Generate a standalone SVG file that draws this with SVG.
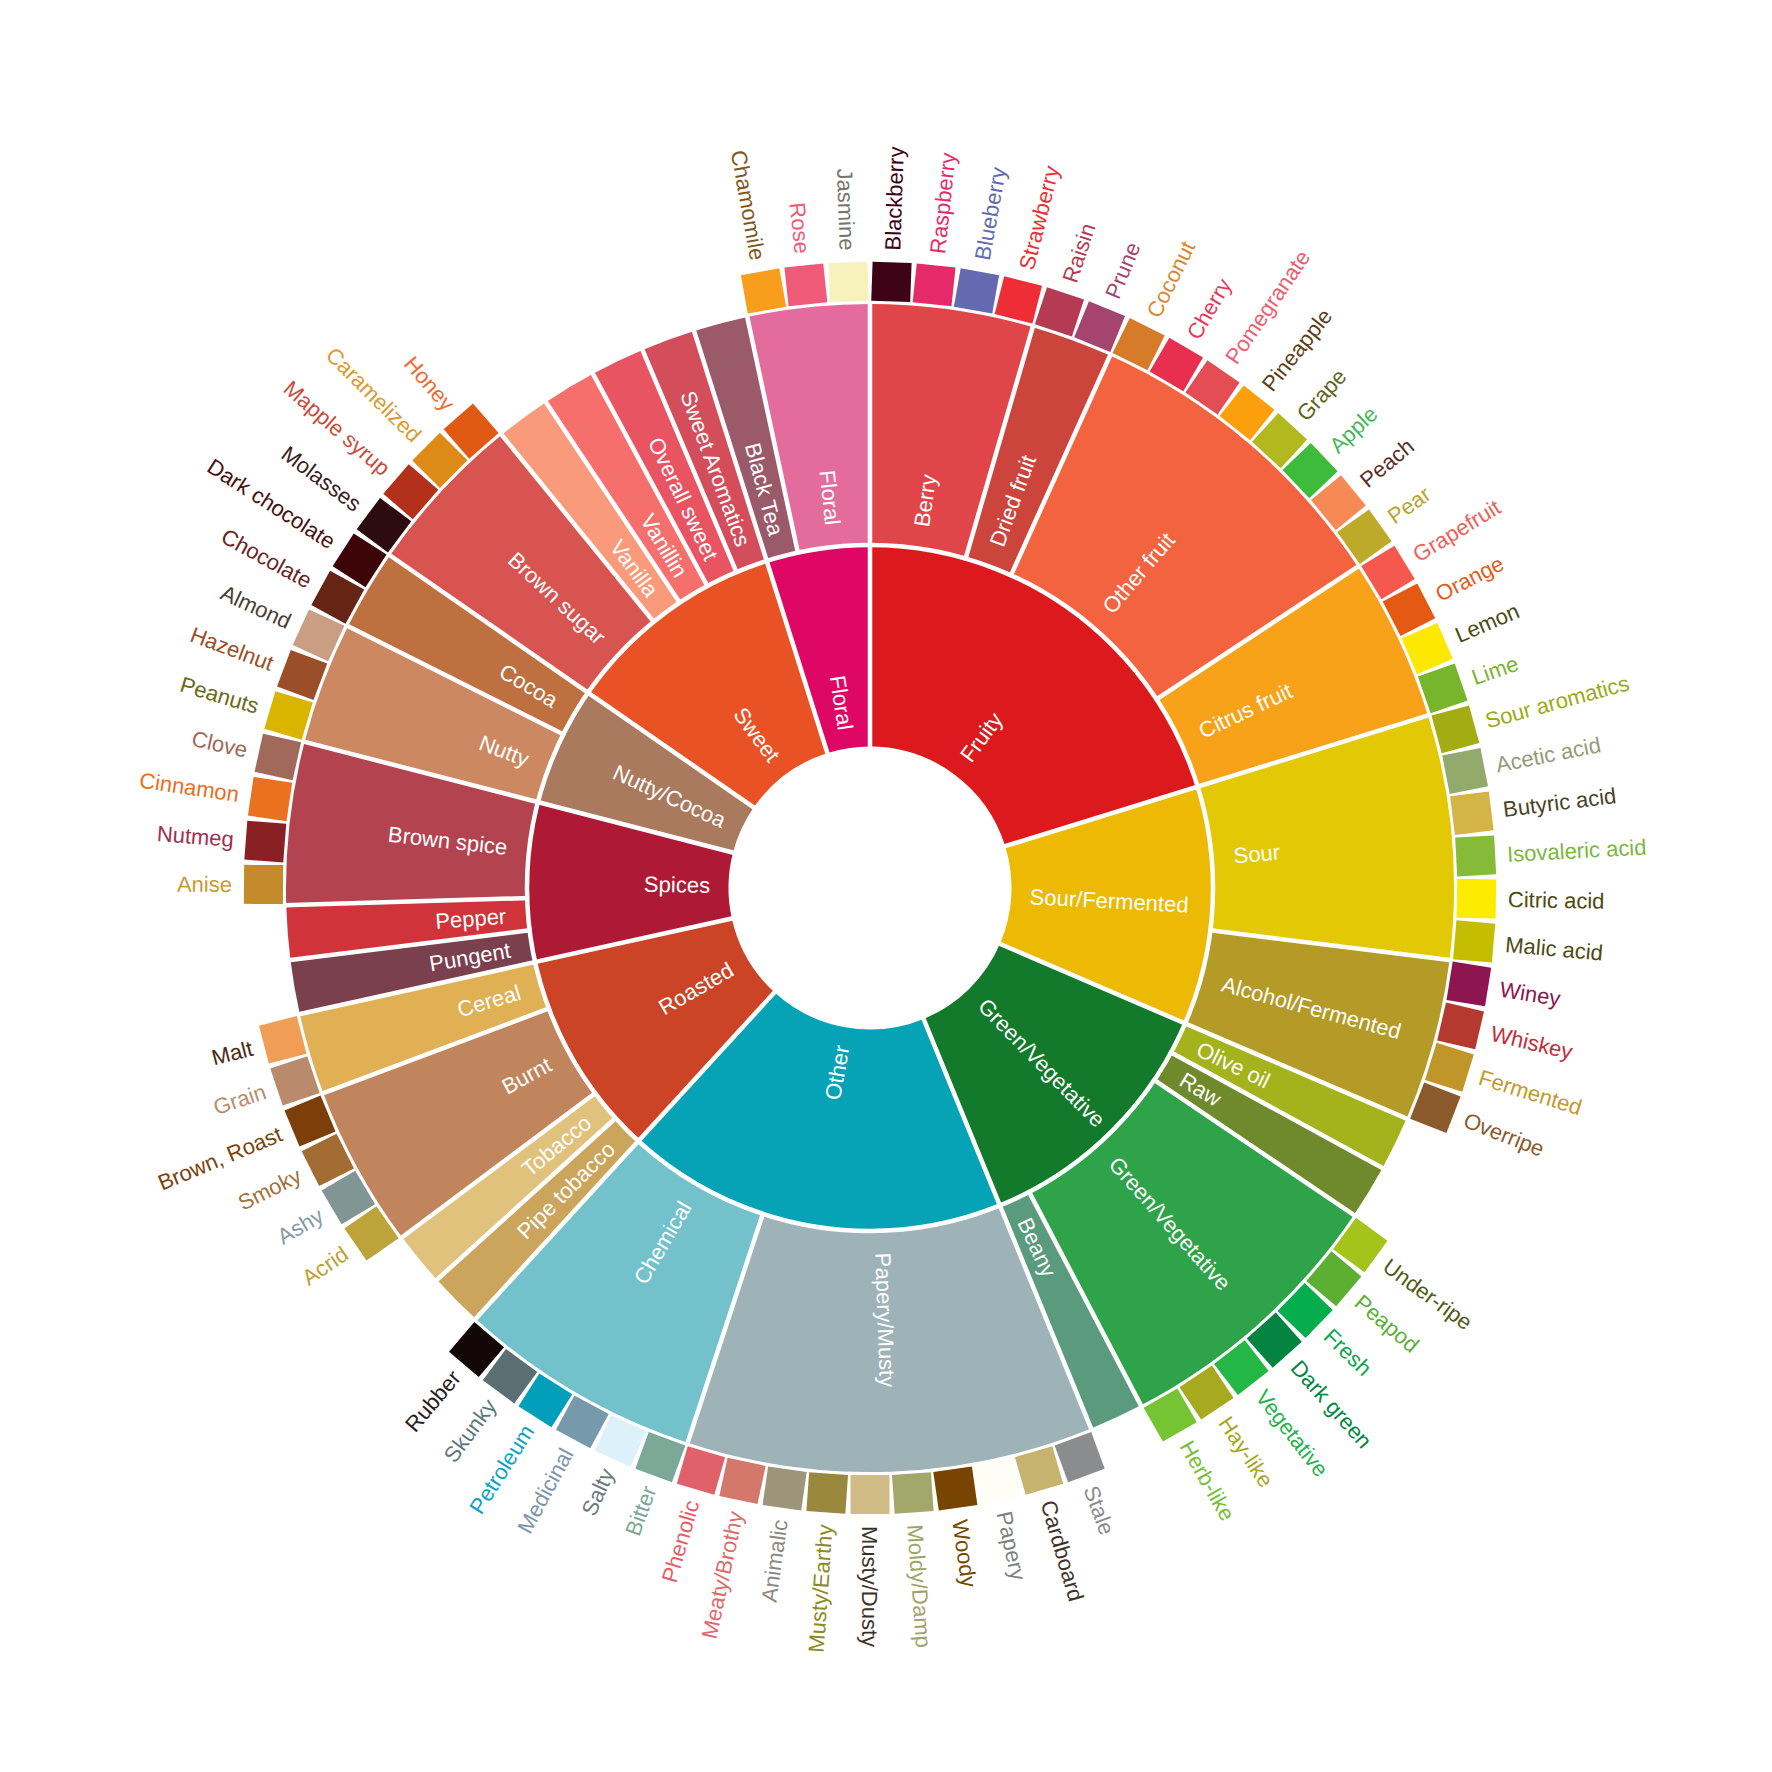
<svg xmlns="http://www.w3.org/2000/svg" width="1772" height="1772" viewBox="0 0 1772 1772">
<style>
text { font-family: "Liberation Sans", Arial, Helvetica, sans-serif; font-size: 22px; }
.l1 { fill: none; stroke-width: 201.5; }
.l2 { fill: none; stroke-width: 241; }
.w { fill: #ffffff; }
.e { text-anchor: end; }
.sep line { stroke: #ffffff; stroke-width: 4.5; }
.sep circle { fill: none; stroke: #ffffff; stroke-width: 4.5; }
</style>
<rect width="1772" height="1772" fill="#ffffff"/>
<g id="wheel" transform="translate(870 888)">
<!-- level 1 -->
<g id="n-fruity"><circle class="l1" r="242.25" stroke="#dc1a1e" stroke-dasharray="307.84 3000" transform="rotate(-90)"/><text class="w" transform="rotate(-53.596)" x="160" dy=".35em">Fruity</text></g>
<g id="n-sour-fermented"><circle class="l1" r="242.25" stroke="#ecb905" stroke-dasharray="171.02 3000" transform="rotate(-17.191)"/><text class="w" transform="rotate(3.034)" x="160" dy=".35em">Sour/Fermented</text></g>
<g id="n-green-vegetative"><circle class="l1" r="242.25" stroke="#127a2a" stroke-dasharray="188.12 3000" transform="rotate(23.258)"/><text class="w" transform="rotate(45.506)" x="160" dy=".35em">Green/Vegetative</text></g>
<g id="n-other"><circle class="l1" r="242.25" stroke="#06a3b7" stroke-dasharray="273.64 3000" transform="rotate(67.753)"/><text class="w e" transform="rotate(280.112)" x="-160" dy=".35em">Other</text></g>
<g id="n-roasted"><circle class="l1" r="242.25" stroke="#cc4426" stroke-dasharray="148.22 3000" transform="rotate(132.472)"/><text class="w e" transform="rotate(330)" x="-160" dy=".35em">Roasted</text></g>
<g id="n-spices"><circle class="l1" r="242.25" stroke="#ae1a36" stroke-dasharray="114.01 3000" transform="rotate(167.528)"/><text class="w e" transform="rotate(1.011)" x="-160" dy=".35em">Spices</text></g>
<g id="n-nutty-cocoa"><circle class="l1" r="242.25" stroke="#a97a5e" stroke-dasharray="85.51 3000" transform="rotate(194.494)"/><text class="w e" transform="rotate(24.607)" x="-160" dy=".35em">Nutty/Cocoa</text></g>
<g id="n-sweet"><circle class="l1" r="242.25" stroke="#e85225" stroke-dasharray="159.62 3000" transform="rotate(214.719)"/><text class="w e" transform="rotate(53.596)" x="-160" dy=".35em">Sweet</text></g>
<g id="n-floral"><circle class="l1" r="242.25" stroke="#de0765" stroke-dasharray="74.11 3000" transform="rotate(252.472)"/><text class="w e" transform="rotate(81.236)" x="-160" dy=".35em">Floral</text></g>
<!-- level 2 -->
<g id="n-berry"><circle class="l2" r="463.5" stroke="#e04649" stroke-dasharray="130.89 4000" transform="rotate(-90)"/><text class="w" transform="rotate(-81.910)" x="365" dy=".35em">Berry</text></g>
<g id="n-dried-fruit"><circle class="l2" r="463.5" stroke="#cc453d" stroke-dasharray="65.44 4000" transform="rotate(-73.820)"/><text class="w" transform="rotate(-69.775)" x="365" dy=".35em">Dried fruit</text></g>
<g id="n-other-fruit"><circle class="l2" r="463.5" stroke="#f4633f" stroke-dasharray="261.78 4000" transform="rotate(-65.730)"/><text class="w" transform="rotate(-49.551)" x="365" dy=".35em">Other fruit</text></g>
<g id="n-citrus-fruit"><circle class="l2" r="463.5" stroke="#f7a218" stroke-dasharray="130.89 4000" transform="rotate(-33.371)"/><text class="w" transform="rotate(-25.281)" x="365" dy=".35em">Citrus fruit</text></g>
<g id="n-sour"><circle class="l2" r="463.5" stroke="#e3c805" stroke-dasharray="196.33 4000" transform="rotate(-17.191)"/><text class="w" transform="rotate(-5.056)" x="365" dy=".35em">Sour</text></g>
<g id="n-alcohol-fermented"><circle class="l2" r="463.5" stroke="#b49a26" stroke-dasharray="130.89 4000" transform="rotate(7.079)"/><text class="w" transform="rotate(15.169)" x="365" dy=".35em">Alcohol/Fermented</text></g>
<g id="n-olive-oil"><circle class="l2" r="463.5" stroke="#a4b31b" stroke-dasharray="43.63 4000" transform="rotate(23.258)"/><text class="w" transform="rotate(25.955)" x="365" dy=".35em">Olive oil</text></g>
<g id="n-raw"><circle class="l2" r="463.5" stroke="#6f8a2c" stroke-dasharray="43.63 4000" transform="rotate(28.652)"/><text class="w" transform="rotate(31.348)" x="365" dy=".35em">Raw</text></g>
<g id="n-green-vegetative-2"><circle class="l2" r="463.5" stroke="#2fa34a" stroke-dasharray="229.05 4000" transform="rotate(34.045)"/><text class="w" transform="rotate(48.202)" x="365" dy=".35em">Green/Vegetative</text></g>
<g id="n-beany"><circle class="l2" r="463.5" stroke="#5a9b7e" stroke-dasharray="43.63 4000" transform="rotate(62.360)"/><text class="w" transform="rotate(65.056)" x="365" dy=".35em">Beany</text></g>
<g id="n-papery-musty"><circle class="l2" r="463.5" stroke="#9db3b8" stroke-dasharray="327.22 4000" transform="rotate(67.753)"/><text class="w" transform="rotate(87.978)" x="365" dy=".35em">Papery/Musty</text></g>
<g id="n-chemical"><circle class="l2" r="463.5" stroke="#72c1cb" stroke-dasharray="196.33 4000" transform="rotate(108.202)"/><text class="w e" transform="rotate(-59.663)" x="-365" dy=".35em">Chemical</text></g>
<g id="n-pipe-tobacco"><circle class="l2" r="463.5" stroke="#cba55c" stroke-dasharray="43.63 4000" transform="rotate(132.472)"/><text class="w e" transform="rotate(-44.831)" x="-365" dy=".35em">Pipe tobacco</text></g>
<g id="n-tobacco"><circle class="l2" r="463.5" stroke="#e1c27c" stroke-dasharray="43.63 4000" transform="rotate(137.865)"/><text class="w e" transform="rotate(-39.438)" x="-365" dy=".35em">Tobacco</text></g>
<g id="n-burnt"><circle class="l2" r="463.5" stroke="#c0855c" stroke-dasharray="130.89 4000" transform="rotate(143.258)"/><text class="w e" transform="rotate(-28.652)" x="-365" dy=".35em">Burnt</text></g>
<g id="n-cereal"><circle class="l2" r="463.5" stroke="#e0b055" stroke-dasharray="65.44 4000" transform="rotate(159.438)"/><text class="w e" transform="rotate(-16.517)" x="-365" dy=".35em">Cereal</text></g>
<g id="n-pungent"><circle class="l2" r="463.5" stroke="#7a404e" stroke-dasharray="43.63 4000" transform="rotate(167.528)"/><text class="w e" transform="rotate(-9.775)" x="-365" dy=".35em">Pungent</text></g>
<g id="n-pepper"><circle class="l2" r="463.5" stroke="#d0333a" stroke-dasharray="43.63 4000" transform="rotate(172.921)"/><text class="w e" transform="rotate(-4.382)" x="-365" dy=".35em">Pepper</text></g>
<g id="n-brown-spice"><circle class="l2" r="463.5" stroke="#b3434f" stroke-dasharray="130.89 4000" transform="rotate(178.315)"/><text class="w e" transform="rotate(6.404)" x="-365" dy=".35em">Brown spice</text></g>
<g id="n-nutty"><circle class="l2" r="463.5" stroke="#cc8860" stroke-dasharray="98.17 4000" transform="rotate(194.494)"/><text class="w e" transform="rotate(20.562)" x="-365" dy=".35em">Nutty</text></g>
<g id="n-cocoa"><circle class="l2" r="463.5" stroke="#bf7040" stroke-dasharray="65.44 4000" transform="rotate(206.629)"/><text class="w e" transform="rotate(30.674)" x="-365" dy=".35em">Cocoa</text></g>
<g id="n-brown-sugar"><circle class="l2" r="463.5" stroke="#d85450" stroke-dasharray="130.89 4000" transform="rotate(214.719)"/><text class="w e" transform="rotate(42.809)" x="-365" dy=".35em">Brown sugar</text></g>
<g id="n-vanilla"><circle class="l2" r="463.5" stroke="#f99a7b" stroke-dasharray="43.63 4000" transform="rotate(230.899)"/><text class="w e" transform="rotate(53.596)" x="-365" dy=".35em">Vanilla</text></g>
<g id="n-vanillin"><circle class="l2" r="463.5" stroke="#f5706c" stroke-dasharray="43.63 4000" transform="rotate(236.292)"/><text class="w e" transform="rotate(58.989)" x="-365" dy=".35em">Vanillin</text></g>
<g id="n-overall-sweet"><circle class="l2" r="463.5" stroke="#e95462" stroke-dasharray="43.63 4000" transform="rotate(241.685)"/><text class="w e" transform="rotate(64.382)" x="-365" dy=".35em">Overall sweet</text></g>
<g id="n-sweet-aromatics"><circle class="l2" r="463.5" stroke="#d34e5a" stroke-dasharray="43.63 4000" transform="rotate(247.079)"/><text class="w e" transform="rotate(69.775)" x="-365" dy=".35em">Sweet Aromatics</text></g>
<g id="n-black-tea"><circle class="l2" r="463.5" stroke="#9a5a6a" stroke-dasharray="43.63 4000" transform="rotate(252.472)"/><text class="w e" transform="rotate(75.169)" x="-365" dy=".35em">Black Tea</text></g>
<g id="n-floral-2"><circle class="l2" r="463.5" stroke="#e36c9c" stroke-dasharray="98.17 4000" transform="rotate(257.865)"/><text class="w e" transform="rotate(84.157)" x="-365" dy=".35em">Floral</text></g>
<!-- separators -->
<g id="separators" class="sep">
<circle r="343"/>
<line x1="138" y1="0" x2="586" y2="0" transform="rotate(-90)"/>
<line x1="138" y1="0" x2="586" y2="0" transform="rotate(-17.191)"/>
<line x1="138" y1="0" x2="586" y2="0" transform="rotate(23.258)"/>
<line x1="138" y1="0" x2="586" y2="0" transform="rotate(67.753)"/>
<line x1="138" y1="0" x2="586" y2="0" transform="rotate(132.472)"/>
<line x1="138" y1="0" x2="586" y2="0" transform="rotate(167.528)"/>
<line x1="138" y1="0" x2="586" y2="0" transform="rotate(194.494)"/>
<line x1="138" y1="0" x2="586" y2="0" transform="rotate(214.719)"/>
<line x1="138" y1="0" x2="586" y2="0" transform="rotate(252.472)"/>
<line x1="341" y1="0" x2="586" y2="0" transform="rotate(-73.820)"/>
<line x1="341" y1="0" x2="586" y2="0" transform="rotate(-65.730)"/>
<line x1="341" y1="0" x2="586" y2="0" transform="rotate(-33.371)"/>
<line x1="341" y1="0" x2="586" y2="0" transform="rotate(7.079)"/>
<line x1="341" y1="0" x2="586" y2="0" transform="rotate(28.652)"/>
<line x1="341" y1="0" x2="586" y2="0" transform="rotate(34.045)"/>
<line x1="341" y1="0" x2="586" y2="0" transform="rotate(62.360)"/>
<line x1="341" y1="0" x2="586" y2="0" transform="rotate(108.202)"/>
<line x1="341" y1="0" x2="586" y2="0" transform="rotate(137.865)"/>
<line x1="341" y1="0" x2="586" y2="0" transform="rotate(143.258)"/>
<line x1="341" y1="0" x2="586" y2="0" transform="rotate(159.438)"/>
<line x1="341" y1="0" x2="586" y2="0" transform="rotate(172.921)"/>
<line x1="341" y1="0" x2="586" y2="0" transform="rotate(178.315)"/>
<line x1="341" y1="0" x2="586" y2="0" transform="rotate(206.629)"/>
<line x1="341" y1="0" x2="586" y2="0" transform="rotate(230.899)"/>
<line x1="341" y1="0" x2="586" y2="0" transform="rotate(236.292)"/>
<line x1="341" y1="0" x2="586" y2="0" transform="rotate(241.685)"/>
<line x1="341" y1="0" x2="586" y2="0" transform="rotate(247.079)"/>
<line x1="341" y1="0" x2="586" y2="0" transform="rotate(257.865)"/>
</g>
<!-- leaves, right half -->
<g id="leaf-blackberry" transform="rotate(-87.978)"><rect x="587" y="-19.5" width="39" height="39" fill="#3e0317"/><text x="638" dy=".35em" fill="#3e0317">Blackberry</text></g>
<g id="leaf-raspberry" transform="rotate(-83.933)"><rect x="587" y="-19.5" width="39" height="39" fill="#e62969"/><text x="638" dy=".35em" fill="#e62969">Raspberry</text></g>
<g id="leaf-blueberry" transform="rotate(-79.888)"><rect x="587" y="-19.5" width="39" height="39" fill="#6569b0"/><text x="638" dy=".35em" fill="#6569b0">Blueberry</text></g>
<g id="leaf-strawberry" transform="rotate(-75.843)"><rect x="587" y="-19.5" width="39" height="39" fill="#ef2d36"/><text x="638" dy=".35em" fill="#ef2d36">Strawberry</text></g>
<g id="leaf-raisin" transform="rotate(-71.798)"><rect x="587" y="-19.5" width="39" height="39" fill="#b53b54"/><text x="638" dy=".35em" fill="#b53b54">Raisin</text></g>
<g id="leaf-prune" transform="rotate(-67.753)"><rect x="587" y="-19.5" width="39" height="39" fill="#a5446f"/><text x="638" dy=".35em" fill="#a5446f">Prune</text></g>
<g id="leaf-coconut" transform="rotate(-63.708)"><rect x="587" y="-19.5" width="39" height="39" fill="#d67b2a"/><text x="638" dy=".35em" fill="#d9882c">Coconut</text></g>
<g id="leaf-cherry" transform="rotate(-59.663)"><rect x="587" y="-19.5" width="39" height="39" fill="#e82f4f"/><text x="638" dy=".35em" fill="#e8365a">Cherry</text></g>
<g id="leaf-pomegranate" transform="rotate(-55.618)"><rect x="587" y="-19.5" width="39" height="39" fill="#e54d55"/><text x="638" dy=".35em" fill="#ee5d6e">Pomegranate</text></g>
<g id="leaf-pineapple" transform="rotate(-51.573)"><rect x="587" y="-19.5" width="39" height="39" fill="#fba00c"/><text x="638" dy=".35em" fill="#5e3d16">Pineapple</text></g>
<g id="leaf-grape" transform="rotate(-47.528)"><rect x="587" y="-19.5" width="39" height="39" fill="#b2b91e"/><text x="638" dy=".35em" fill="#5d6420">Grape</text></g>
<g id="leaf-apple" transform="rotate(-43.483)"><rect x="587" y="-19.5" width="39" height="39" fill="#3fbb3b"/><text x="638" dy=".35em" fill="#44b85a">Apple</text></g>
<g id="leaf-peach" transform="rotate(-39.438)"><rect x="587" y="-19.5" width="39" height="39" fill="#f68a55"/><text x="638" dy=".35em" fill="#5a2e28">Peach</text></g>
<g id="leaf-pear" transform="rotate(-35.393)"><rect x="587" y="-19.5" width="39" height="39" fill="#bcaa28"/><text x="638" dy=".35em" fill="#b8a62a">Pear</text></g>
<g id="leaf-grapefruit" transform="rotate(-31.348)"><rect x="587" y="-19.5" width="39" height="39" fill="#f5584c"/><text x="638" dy=".35em" fill="#f0605a">Grapefruit</text></g>
<g id="leaf-orange" transform="rotate(-27.303)"><rect x="587" y="-19.5" width="39" height="39" fill="#e55a13"/><text x="638" dy=".35em" fill="#e65a18">Orange</text></g>
<g id="leaf-lemon" transform="rotate(-23.258)"><rect x="587" y="-19.5" width="39" height="39" fill="#fde804"/><text x="638" dy=".35em" fill="#4a4a14">Lemon</text></g>
<g id="leaf-lime" transform="rotate(-19.213)"><rect x="587" y="-19.5" width="39" height="39" fill="#76b52c"/><text x="638" dy=".35em" fill="#76b52c">Lime</text></g>
<g id="leaf-sour-aromatics" transform="rotate(-15.169)"><rect x="587" y="-19.5" width="39" height="39" fill="#a4ac14"/><text x="638" dy=".35em" fill="#9aac10">Sour aromatics</text></g>
<g id="leaf-acetic-acid" transform="rotate(-11.124)"><rect x="587" y="-19.5" width="39" height="39" fill="#92aa6c"/><text x="638" dy=".35em" fill="#929c78">Acetic acid</text></g>
<g id="leaf-butyric-acid" transform="rotate(-7.079)"><rect x="587" y="-19.5" width="39" height="39" fill="#d4b447"/><text x="638" dy=".35em" fill="#4a4226">Butyric acid</text></g>
<g id="leaf-isovaleric-acid" transform="rotate(-3.034)"><rect x="587" y="-19.5" width="39" height="39" fill="#86bb3a"/><text x="638" dy=".35em" fill="#7ab83e">Isovaleric acid</text></g>
<g id="leaf-citric-acid" transform="rotate(1.011)"><rect x="587" y="-19.5" width="39" height="39" fill="#fdeb00"/><text x="638" dy=".35em" fill="#4e4a10">Citric acid</text></g>
<g id="leaf-malic-acid" transform="rotate(5.056)"><rect x="587" y="-19.5" width="39" height="39" fill="#c5bd00"/><text x="638" dy=".35em" fill="#4e4a10">Malic acid</text></g>
<g id="leaf-winey" transform="rotate(9.101)"><rect x="587" y="-19.5" width="39" height="39" fill="#8e1650"/><text x="638" dy=".35em" fill="#8e1650">Winey</text></g>
<g id="leaf-whiskey" transform="rotate(13.146)"><rect x="587" y="-19.5" width="39" height="39" fill="#b5392f"/><text x="638" dy=".35em" fill="#c0303a">Whiskey</text></g>
<g id="leaf-fermented" transform="rotate(17.191)"><rect x="587" y="-19.5" width="39" height="39" fill="#c0952a"/><text x="638" dy=".35em" fill="#c09a2e">Fermented</text></g>
<g id="leaf-overripe" transform="rotate(21.236)"><rect x="587" y="-19.5" width="39" height="39" fill="#8c5b2c"/><text x="638" dy=".35em" fill="#8c5b2c">Overripe</text></g>
<g id="leaf-under-ripe" transform="rotate(36.067)"><rect x="587" y="-19.5" width="39" height="39" fill="#a4c41c"/><text x="638" dy=".35em" fill="#4e5a14">Under-ripe</text></g>
<g id="leaf-peapod" transform="rotate(40.112)"><rect x="587" y="-19.5" width="39" height="39" fill="#5caf33"/><text x="638" dy=".35em" fill="#5caf33">Peapod</text></g>
<g id="leaf-fresh" transform="rotate(44.157)"><rect x="587" y="-19.5" width="39" height="39" fill="#05ad4c"/><text x="638" dy=".35em" fill="#05a84c">Fresh</text></g>
<g id="leaf-dark-green" transform="rotate(48.202)"><rect x="587" y="-19.5" width="39" height="39" fill="#038541"/><text x="638" dy=".35em" fill="#038541">Dark green</text></g>
<g id="leaf-vegetative" transform="rotate(52.247)"><rect x="587" y="-19.5" width="39" height="39" fill="#23b746"/><text x="638" dy=".35em" fill="#23b34c">Vegetative</text></g>
<g id="leaf-hay-like" transform="rotate(56.292)"><rect x="587" y="-19.5" width="39" height="39" fill="#a7a91e"/><text x="638" dy=".35em" fill="#a9a61e">Hay-like</text></g>
<g id="leaf-herb-like" transform="rotate(60.337)"><rect x="587" y="-19.5" width="39" height="39" fill="#76c433"/><text x="638" dy=".35em" fill="#76c036">Herb-like</text></g>
<g id="leaf-stale" transform="rotate(69.775)"><rect x="587" y="-19.5" width="39" height="39" fill="#8a8c8e"/><text x="638" dy=".35em" fill="#8a8c90">Stale</text></g>
<g id="leaf-cardboard" transform="rotate(73.820)"><rect x="587" y="-19.5" width="39" height="39" fill="#c4b46e"/><text x="638" dy=".35em" fill="#3e3428">Cardboard</text></g>
<g id="leaf-papery" transform="rotate(77.865)"><rect x="587" y="-19.5" width="39" height="39" fill="#fefef4"/><text x="638" dy=".35em" fill="#808080">Papery</text></g>
<g id="leaf-woody" transform="rotate(81.910)"><rect x="587" y="-19.5" width="39" height="39" fill="#774500"/><text x="638" dy=".35em" fill="#744a00">Woody</text></g>
<g id="leaf-moldy-damp" transform="rotate(85.955)"><rect x="587" y="-19.5" width="39" height="39" fill="#a2a76a"/><text x="638" dy=".35em" fill="#a0a46a">Moldy/Damp</text></g>
<g id="leaf-musty-dusty" transform="rotate(90)"><rect x="587" y="-19.5" width="39" height="39" fill="#d0bc85"/><text x="638" dy=".35em" fill="#3a3228">Musty/Dusty</text></g>
<!-- leaves, left half -->
<g id="leaf-musty-earthy" transform="rotate(94.045)"><rect x="587" y="-19.5" width="39" height="39" fill="#9a883c"/><text class="e" transform="rotate(180)" x="-638" dy=".35em" fill="#8c8a22">Musty/Earthy</text></g>
<g id="leaf-animalic" transform="rotate(98.090)"><rect x="587" y="-19.5" width="39" height="39" fill="#9d9579"/><text class="e" transform="rotate(180)" x="-638" dy=".35em" fill="#8a8a80">Animalic</text></g>
<g id="leaf-meaty-brothy" transform="rotate(102.135)"><rect x="587" y="-19.5" width="39" height="39" fill="#d3786a"/><text class="e" transform="rotate(180)" x="-638" dy=".35em" fill="#e06a6a">Meaty/Brothy</text></g>
<g id="leaf-phenolic" transform="rotate(106.180)"><rect x="587" y="-19.5" width="39" height="39" fill="#e0616a"/><text class="e" transform="rotate(180)" x="-638" dy=".35em" fill="#e85a66">Phenolic</text></g>
<g id="leaf-bitter" transform="rotate(110.225)"><rect x="587" y="-19.5" width="39" height="39" fill="#7ca898"/><text class="e" transform="rotate(180)" x="-638" dy=".35em" fill="#7aa898">Bitter</text></g>
<g id="leaf-salty" transform="rotate(114.270)"><rect x="587" y="-19.5" width="39" height="39" fill="#dcf1f9"/><text class="e" transform="rotate(180)" x="-638" dy=".35em" fill="#6a7a7c">Salty</text></g>
<g id="leaf-medicinal" transform="rotate(118.315)"><rect x="587" y="-19.5" width="39" height="39" fill="#7799ac"/><text class="e" transform="rotate(180)" x="-638" dy=".35em" fill="#7d96a8">Medicinal</text></g>
<g id="leaf-petroleum" transform="rotate(122.360)"><rect x="587" y="-19.5" width="39" height="39" fill="#029fba"/><text class="e" transform="rotate(180)" x="-638" dy=".35em" fill="#0aa3c5">Petroleum</text></g>
<g id="leaf-skunky" transform="rotate(126.404)"><rect x="587" y="-19.5" width="39" height="39" fill="#5b6f73"/><text class="e" transform="rotate(180)" x="-638" dy=".35em" fill="#5b767a">Skunky</text></g>
<g id="leaf-rubber" transform="rotate(130.449)"><rect x="587" y="-19.5" width="39" height="39" fill="#120606"/><text class="e" transform="rotate(180)" x="-638" dy=".35em" fill="#2a1a1a">Rubber</text></g>
<g id="leaf-acrid" transform="rotate(145.281)"><rect x="587" y="-19.5" width="39" height="39" fill="#bda43a"/><text class="e" transform="rotate(180)" x="-638" dy=".35em" fill="#c0a030">Acrid</text></g>
<g id="leaf-ashy" transform="rotate(149.326)"><rect x="587" y="-19.5" width="39" height="39" fill="#819694"/><text class="e" transform="rotate(180)" x="-638" dy=".35em" fill="#829aa8">Ashy</text></g>
<g id="leaf-smoky" transform="rotate(153.371)"><rect x="587" y="-19.5" width="39" height="39" fill="#a16d32"/><text class="e" transform="rotate(180)" x="-638" dy=".35em" fill="#a5703a">Smoky</text></g>
<g id="leaf-brown-roast" transform="rotate(157.416)"><rect x="587" y="-19.5" width="39" height="39" fill="#7c3f09"/><text class="e" transform="rotate(180)" x="-638" dy=".35em" fill="#7c3f09">Brown, Roast</text></g>
<g id="leaf-grain" transform="rotate(161.461)"><rect x="587" y="-19.5" width="39" height="39" fill="#b98b6c"/><text class="e" transform="rotate(180)" x="-638" dy=".35em" fill="#b98b6c">Grain</text></g>
<g id="leaf-malt" transform="rotate(165.506)"><rect x="587" y="-19.5" width="39" height="39" fill="#f09e56"/><text class="e" transform="rotate(180)" x="-638" dy=".35em" fill="#4a2a14">Malt</text></g>
<g id="leaf-anise" transform="rotate(180.337)"><rect x="587" y="-19.5" width="39" height="39" fill="#c58a2c"/><text class="e" transform="rotate(180)" x="-638" dy=".35em" fill="#c89a30">Anise</text></g>
<g id="leaf-nutmeg" transform="rotate(184.382)"><rect x="587" y="-19.5" width="39" height="39" fill="#882024"/><text class="e" transform="rotate(180)" x="-638" dy=".35em" fill="#a03050">Nutmeg</text></g>
<g id="leaf-cinnamon" transform="rotate(188.427)"><rect x="587" y="-19.5" width="39" height="39" fill="#ea711f"/><text class="e" transform="rotate(180)" x="-638" dy=".35em" fill="#e8701f">Cinnamon</text></g>
<g id="leaf-clove" transform="rotate(192.472)"><rect x="587" y="-19.5" width="39" height="39" fill="#a0695a"/><text class="e" transform="rotate(180)" x="-638" dy=".35em" fill="#a0695a">Clove</text></g>
<g id="leaf-peanuts" transform="rotate(196.517)"><rect x="587" y="-19.5" width="39" height="39" fill="#d9b500"/><text class="e" transform="rotate(180)" x="-638" dy=".35em" fill="#6a6a14">Peanuts</text></g>
<g id="leaf-hazelnut" transform="rotate(200.562)"><rect x="587" y="-19.5" width="39" height="39" fill="#9b4f28"/><text class="e" transform="rotate(180)" x="-638" dy=".35em" fill="#9b4f28">Hazelnut</text></g>
<g id="leaf-almond" transform="rotate(204.607)"><rect x="587" y="-19.5" width="39" height="39" fill="#c99e82"/><text class="e" transform="rotate(180)" x="-638" dy=".35em" fill="#4a3e34">Almond</text></g>
<g id="leaf-chocolate" transform="rotate(208.652)"><rect x="587" y="-19.5" width="39" height="39" fill="#652414"/><text class="e" transform="rotate(180)" x="-638" dy=".35em" fill="#6a2420">Chocolate</text></g>
<g id="leaf-dark-chocolate" transform="rotate(212.697)"><rect x="587" y="-19.5" width="39" height="39" fill="#3d0508"/><text class="e" transform="rotate(180)" x="-638" dy=".35em" fill="#4a1010">Dark chocolate</text></g>
<g id="leaf-molasses" transform="rotate(216.742)"><rect x="587" y="-19.5" width="39" height="39" fill="#2e0b0e"/><text class="e" transform="rotate(180)" x="-638" dy=".35em" fill="#3a2020">Molasses</text></g>
<g id="leaf-mapple-syrup" transform="rotate(220.787)"><rect x="587" y="-19.5" width="39" height="39" fill="#b3301b"/><text class="e" transform="rotate(180)" x="-638" dy=".35em" fill="#c84a3a">Mapple syrup</text></g>
<g id="leaf-caramelized" transform="rotate(224.831)"><rect x="587" y="-19.5" width="39" height="39" fill="#de8a16"/><text class="e" transform="rotate(180)" x="-638" dy=".35em" fill="#dc9a30">Caramelized</text></g>
<g id="leaf-honey" transform="rotate(228.876)"><rect x="587" y="-19.5" width="39" height="39" fill="#e15a14"/><text class="e" transform="rotate(180)" x="-638" dy=".35em" fill="#f06a30">Honey</text></g>
<g id="leaf-chamomile" transform="rotate(259.888)"><rect x="587" y="-19.5" width="39" height="39" fill="#f99e1c"/><text class="e" transform="rotate(180)" x="-638" dy=".35em" fill="#80561a">Chamomile</text></g>
<g id="leaf-rose" transform="rotate(263.933)"><rect x="587" y="-19.5" width="39" height="39" fill="#ef5a78"/><text class="e" transform="rotate(180)" x="-638" dy=".35em" fill="#ef5a78">Rose</text></g>
<g id="leaf-jasmine" transform="rotate(267.978)"><rect x="587" y="-19.5" width="39" height="39" fill="#f7f1bd"/><text class="e" transform="rotate(180)" x="-638" dy=".35em" fill="#76766a">Jasmine</text></g>
</g>
</svg>
